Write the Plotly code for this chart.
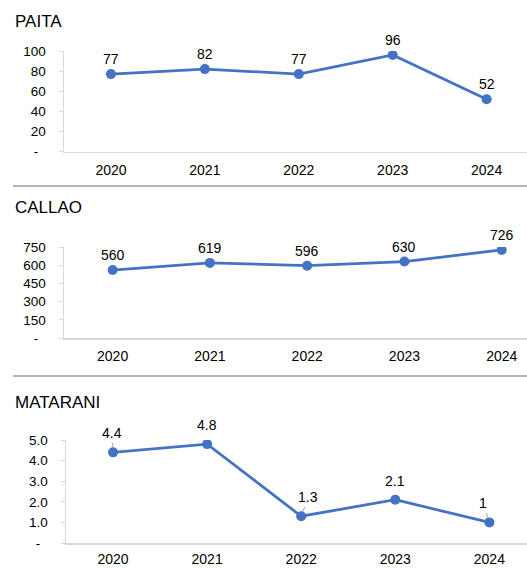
import plotly.graph_objects as go

years = ["2020", "2021", "2022", "2023", "2024"]
paita = [77, 82, 77, 96, 52]
callao = [560, 619, 596, 630, 726]
matarani = [4.4, 4.8, 1.3, 2.1, 1.0]
matarani_labels = ["4.4", "4.8", "1.3", "2.1", "1"]

titles = ["PAITA", "CALLAO", "MATARANI"]
paita_ticks = [0, 20, 40, 60, 80, 100]
callao_ticks = [0, 150, 300, 450, 600, 750]
matarani_ticks = [0, 1, 2, 3, 4, 5]

W, H = 527, 568
BLUE = "#4472C4"
FONT = "Liberation Sans, Arial, sans-serif"

def py(px):
    return (H - px) / H

fig = go.Figure()

series = [paita, callao, matarani]
labels = [[str(v) for v in paita], [str(v) for v in callao], matarani_labels]
for i, vals in enumerate(series):
    sfx = "" if i == 0 else str(i + 1)
    fig.add_trace(go.Scatter(
        x=years, y=vals, mode="lines+markers",
        line=dict(color=BLUE, width=2.75),
        marker=dict(color=BLUE, size=10),
        xaxis="x" + sfx, yaxis="y" + sfx, showlegend=False,
        hoverinfo="skip"))

# axes
ydom = [(51, 151.5), (247, 338), (440, 543)]
xleft = [64, 64, 66]
xranges = [[-0.5, 4.43], [-0.5, 4.26], [-0.5, 4.40]]
yticks = [paita_ticks, callao_ticks, matarani_ticks]
yfmt = [lambda v: str(v), lambda v: str(v), lambda v: f"{v:.1f}"]
ymax = [100, 750, 5]
xstandoff = [5, 5, 3]

for i in range(3):
    sfx = "" if i == 0 else str(i + 1)
    tt = ["-\u00a0\u00a0" if v == 0 else yfmt[i](v) for v in yticks[i]]
    fig.layout["xaxis" + sfx] = dict(
        domain=[xleft[i] / W, 1], range=xranges[i], type="category",
        anchor="y" + sfx, showgrid=False, zeroline=False, automargin=False,
        showline=True, linecolor="#d9d9d9", linewidth=1.5,
        ticks="", ticklabelstandoff=xstandoff[i],
        tickfont=dict(family=FONT, size=14, color="#000"))
    fig.layout["yaxis" + sfx] = dict(
        domain=[py(ydom[i][1]), py(ydom[i][0])], range=[0, ymax[i]],
        anchor="x" + sfx, showgrid=False, zeroline=False, automargin=False,
        showline=True, linecolor="#d9d9d9", linewidth=1.5,
        ticks="outside", ticklen=4, tickcolor="#d9d9d9",
        tickvals=yticks[i], ticktext=tt, ticklabelstandoff=10,
        tickfont=dict(family=FONT, size=13.5, color="#000"))

annotations = []
# data labels (x given as category index on the category axis)
for i in range(3):
    sfx = "" if i == 0 else str(i + 1)
    for j, v in enumerate(series[i]):
        lab = labels[i][j]
        if i == 2:
            dx = {0: -1, 1: 0, 2: 7, 3: 0, 4: -6}[j]
            leader = j in (0, 2, 4)
            annotations.append(dict(
                x=j, y=v, xref="x" + sfx, yref="y" + sfx, text=lab,
                showarrow=True, ax=dx, ay=-19, arrowhead=0,
                arrowwidth=1, arrowcolor="#a6a6a6" if leader else "rgba(0,0,0,0)",
                standoff=5,
                font=dict(family=FONT, size=14, color="#000")))
        else:
            annotations.append(dict(
                x=j, y=v, xref="x" + sfx, yref="y" + sfx, text=lab,
                showarrow=False, yshift=15,
                font=dict(family=FONT, size=14, color="#000")))

# panel titles
title_y = [21, 207, 402]
for t, yy in zip(titles, title_y):
    annotations.append(dict(
        x=13 / W, y=py(yy), xref="paper", yref="paper", text=t,
        showarrow=False, xanchor="left", yanchor="middle",
        font=dict(family=FONT, size=17, color="#000")))

shapes = []
for yy in (186, 376):
    shapes.append(dict(type="line", xref="paper", yref="paper",
                       x0=13 / W, x1=1, y0=py(yy), y1=py(yy),
                       line=dict(color="#999999", width=1.5)))

fig.update_layout(
    template="none",
    width=W, height=H, margin=dict(l=0, r=0, t=0, b=0, pad=0, autoexpand=False),
    paper_bgcolor="white", plot_bgcolor="white",
    annotations=annotations, shapes=shapes)

fig.write_html("out.html",
               config={"displayModeBar": False, "staticPlot": True},
               post_script="document.body.style.margin='0';document.body.style.overflow='hidden';")
